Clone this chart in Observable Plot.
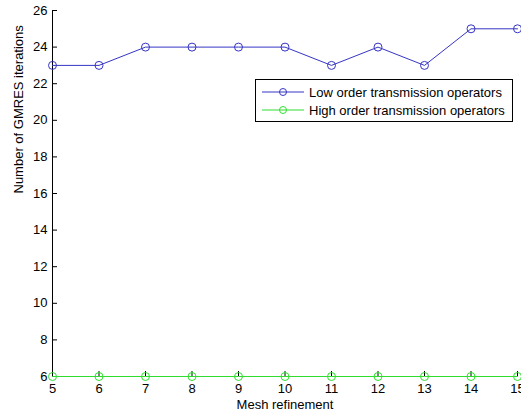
<!DOCTYPE html>
<html>
<head>
<meta charset="utf-8">
<script src="https://cdn.jsdelivr.net/npm/d3@7"></script>
<script src="https://cdn.jsdelivr.net/npm/@observablehq/plot@0.6"></script>
<style>
  html, body { margin: 0; padding: 0; background: #fff; }
  #wrap { position: relative; width: 521px; height: 416px; font-family: "Liberation Sans", Arial, sans-serif; }
  #legend { position: absolute; left: 255px; top: 79px; width: 256px; height: 41px; border: 1px solid #000; background: #fff; font-size: 13px; }
  #legend .row { position: absolute; left: 0; height: 18px; display: flex; align-items: center; }
  #legend svg { display: block; }
</style>
</head>
<body>
<div id="wrap"></div>
<script>
const meshRefinement = [5, 6, 7, 8, 9, 10, 11, 12, 13, 14, 15];
const lowOrder = [23, 23, 24, 24, 24, 24, 23, 24, 23, 25, 25];
const highOrder = [6, 6, 6, 6, 6, 6, 6, 6, 6, 6, 6];
const seriesNames = ["Low order transmission operators", "High order transmission operators"];
const seriesColors = ["#3535c4", "#2fdd2f"];
const xTicks = [5, 6, 7, 8, 9, 10, 11, 12, 13, 14, 15];
const yTicks = [6, 8, 10, 12, 14, 16, 18, 20, 22, 24, 26];
const xLabel = "Mesh refinement";
const yLabel = "Number of GMRES iterations";

const rows = [];
meshRefinement.forEach((m, i) => {
  rows.push({x: m, y: lowOrder[i], s: seriesNames[0]});
});
meshRefinement.forEach((m, i) => {
  rows.push({x: m, y: highOrder[i], s: seriesNames[1]});
});

const chart = Plot.plot({
  width: 521,
  height: 416,
  marginLeft: 52,
  marginRight: 4,
  marginTop: 10,
  marginBottom: 40,
  style: {fontFamily: "'Liberation Sans', Arial, sans-serif", fontSize: "13px", color: "#000", background: "#fff"},
  x: {domain: [5, 15]},
  y: {domain: [6, 26]},
  color: {domain: seriesNames, range: seriesColors},
  marks: [
    Plot.axisX({ticks: xTicks, tickSize: -5, tickPadding: 12, tickFormat: d => String(d), label: null, fontSize: 13}),
    Plot.axisY({ticks: yTicks, tickSize: -5, tickPadding: 10, tickFormat: d => String(d), label: null, fontSize: 13}),
    Plot.ruleX([5], {stroke: "#000"}),
    Plot.line(rows, {x: "x", y: "y", z: "s", stroke: "s", strokeWidth: 1}),
    Plot.dot(rows, {x: "x", y: "y", stroke: "s", r: 4, fill: "none", strokeWidth: 1}),
    Plot.text([xLabel], {frameAnchor: "bottom", dy: 32, fontSize: 13}),
    Plot.text([yLabel], {frameAnchor: "left", dx: -34, rotate: -90, fontSize: 13})
  ]
});

const wrap = document.getElementById("wrap");
wrap.appendChild(chart);

const legend = document.createElement("div");
legend.id = "legend";
seriesNames.forEach((name, i) => {
  const row = document.createElement("div");
  row.className = "row";
  row.style.top = (3 + i * 18) + "px";
  const sw = d3.create("svg").attr("width", 53).attr("height", 18);
  sw.append("line").attr("x1", 6).attr("x2", 48).attr("y1", 9).attr("y2", 9).attr("stroke", seriesColors[i]);
  sw.append("circle").attr("cx", 27).attr("cy", 9).attr("r", 3.5).attr("fill", "none").attr("stroke", seriesColors[i]);
  row.appendChild(sw.node());
  const t = document.createElement("span");
  t.textContent = name;
  row.appendChild(t);
  legend.appendChild(row);
});
wrap.appendChild(legend);
</script>
</body>
</html>
